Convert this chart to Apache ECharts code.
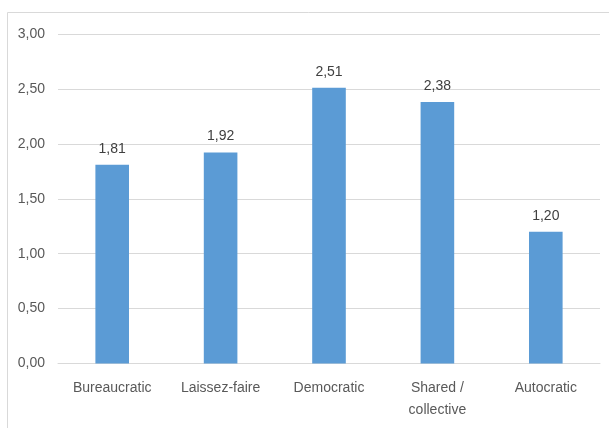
<!DOCTYPE html>
<html>
<head>
<meta charset="utf-8">
<script src="https://cdn.jsdelivr.net/npm/echarts@6/dist/echarts.min.js"></script>
<style>
  html, body { margin: 0; padding: 0; background: #ffffff; }
  #chart { width: 609px; height: 428px; }
</style>
</head>
<body>
<div id="chart"></div>
<script>
// Leadership style scores
const categories = ['Bureaucratic', 'Laissez-faire', 'Democratic', 'Shared /\ncollective', 'Autocratic'];
const scores = [1.81, 1.92, 2.51, 2.38, 1.20];
const yTicks = { min: 0, max: 3, interval: 0.5 };

const FONT = '"Liberation Sans", Arial, sans-serif';
const fmt = v => v.toFixed(2).replace('.', ',');

const chart = echarts.init(document.getElementById('chart'), null, { renderer: 'canvas' });
chart.setOption({
  animation: false,
  backgroundColor: '#ffffff',
  graphic: [{
    type: 'rect',
    shape: { x: 7.5, y: 12.5, width: 700, height: 500 },
    style: { fill: 'none', stroke: '#d9d9d9', lineWidth: 1 },
    silent: true
  }],
  grid: { left: 58, right: 9, top: 34, bottom: 64.5 },
  xAxis: {
    type: 'category',
    data: categories,
    axisLine: { show: true, lineStyle: { color: '#d9d9d9', width: 1 } },
    axisTick: { show: false },
    axisLabel: {
      color: '#595959', fontFamily: FONT, fontSize: 14, lineHeight: 22,
      margin: 14, interval: 0
    }
  },
  yAxis: {
    type: 'value',
    min: yTicks.min, max: yTicks.max, interval: yTicks.interval,
    axisLine: { show: false },
    axisTick: { show: false },
    splitLine: { lineStyle: { color: '#d9d9d9', width: 1 } },
    axisLabel: {
      color: '#595959', fontFamily: FONT, fontSize: 14, margin: 13,
      formatter: v => fmt(v)
    }
  },
  series: [{
    type: 'bar',
    data: scores,
    barWidth: '31%',
    itemStyle: { color: '#5b9bd5' },
    label: {
      show: true, position: 'top', distance: 9,
      color: '#404040', fontFamily: FONT, fontSize: 14,
      formatter: p => fmt(p.value)
    }
  }]
});
</script>
</body>
</html>
